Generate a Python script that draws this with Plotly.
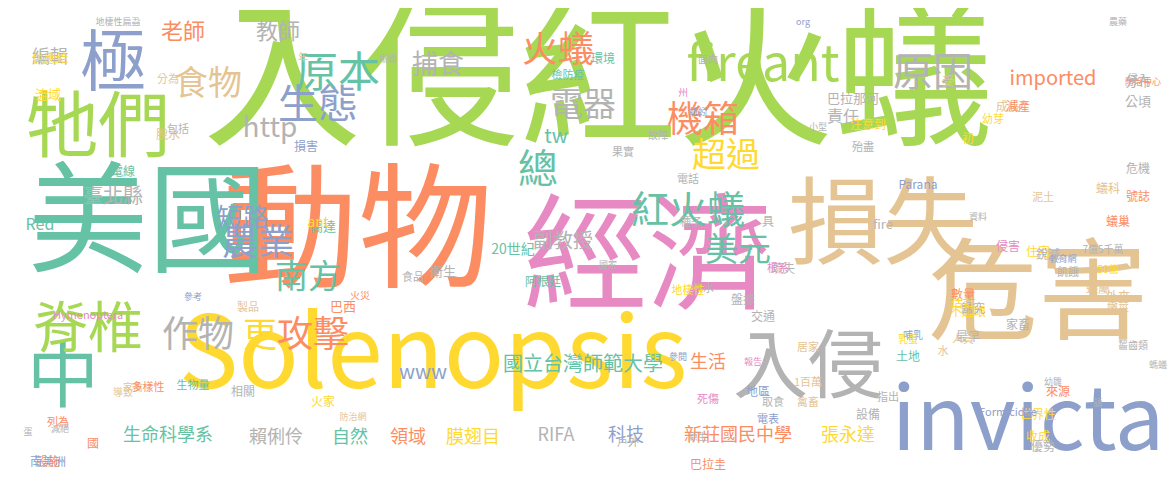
import plotly.graph_objects as go

G, O, T, B, P, Y, N, R = "#a6d854", "#fc8d62", "#66c2a5", "#8da0cb", "#e78ac3", "#ffd92f", "#e5c494", "#b3b3b3"

words = ["入侵紅火蟻", "動物", "經濟", "美國", "損失", "危害", "Solenopsis", "invicta", "入侵", "牠們",
         "極", "中", "脊椎", "fireant", "原本", "原因", "生態", "食物", "火蟻", "紅火蟻",
         "機箱", "超過", "電器", "總", "美元", "農業", "南方", "作物", "更", "攻擊",
         "短路", "http", "捕食", "教師", "老師", "臺北縣", "編輯", "tw", "副教授", "20世紀",
         "Red", "www", "國立台灣師範大學", "生活", "生命科學系", "賴俐伶", "自然", "領域", "膜翅目", "RIFA",
         "科技", "新莊國民中學", "張永達", "imported", "責任", "分布", "公頃", "fire", "巴拉那河", "檢防疫",
         "環境", "果實", "電話", "種子", "巴西", "阿根廷", "衛生", "食品", "火災", "高達",
         "ant", "損害", "電線", "製品", "脫水", "包括", "流域", "供應給", "分為", "年",
         "地棲性扁蝨", "蜥蜴", "org", "面向", "故障", "農藥", "防治中心", "侵入", "危機", "號誌",
         "蟻巢", "蟻科", "成長", "幼芽", "初", "受", "減產", "小型", "注意到", "殆盡",
         "州", "蚯蚓", "Parana", "泥土", "侵害", "資料", "住宅", "教育網", "具", "疏失",
         "銳減", "7億5千萬", "50億", "蟻屬", "飢餓", "外來", "嫩莖", "數量", "不起眼", "最早",
         "歸究", "哺乳", "飲水", "估計", "家畜", "人員", "乳蛋", "土地", "報告", "盤據",
         "參閱", "交通", "地區", "1百萬", "禽畜", "來源", "指出", "設備", "取食", "世界性",
         "收成", "優勢", "Formicidae", "死傷", "電表", "原生", "巴拉圭", "家禽", "生物量", "相關",
         "火家", "Hymenoptera", "多樣性", "導致", "蛋", "參考", "列為", "減絕", "國", "設施",
         "南美洲", "地棲性", "根系", "國家", "居家", "水", "防治網", "戶外", "齧齒類", "螞蟻",
         "請", "幼雛", "三"]
x = [590, 350, 640, 140, 875, 1030, 425, 1020, 800, 90,
     105, 55, 80, 755, 330, 925, 310, 200, 550, 680,
     695, 718, 575, 530, 730, 250, 300, 190, 252, 305,
     235, 262, 430, 270, 175, 105, 42, 548, 555, 505,
     32, 415, 575, 700, 160, 268, 342, 400, 465, 548,
     618, 730, 840, 1045, 835, 1130, 1130, 875, 845, 560,
     595, 615, 680, 683, 335, 535, 435, 405, 352, 315,
     310, 298, 115, 240, 160, 170, 40, 42, 160, 295,
     110, 380, 795, 700, 650, 1110, 1135, 1130, 1130, 1130,
     1110, 1100, 1000, 985, 960, 940, 1010, 810, 860, 855,
     675, 690, 910, 1035, 1000, 970, 1030, 1055, 760, 775,
     1040, 1095, 1100, 1090, 1060, 1110, 1110, 955, 960, 960,
     965, 905, 695, 955, 1010, 955, 900, 900, 745, 735,
     670, 755, 750, 800, 800, 1050, 880, 860, 765, 1030,
     1030, 1035, 1000, 700, 760, 690, 700, 125, 185, 235,
     315, 80, 140, 115, 20, 185, 50, 52, 85, 40,
     40, 680, 770, 600, 800, 935, 345, 620, 1125, 1150,
     1090, 1045, 35]
y = [85, 235, 260, 225, 225, 295, 355, 420, 365, 125,
     60, 375, 325, 60, 68, 68, 100, 78, 45, 205,
     115, 150, 100, 165, 245, 238, 272, 330, 330, 330,
     212, 122, 58, 25, 25, 190, 50, 130, 235, 242,
     218, 366, 358, 355, 428, 430, 430, 430, 430, 428,
     428, 428, 428, 72, 110, 75, 95, 218, 92, 68,
     52, 145, 172, 215, 300, 275, 265, 270, 288, 220,
     215, 140, 165, 300, 128, 122, 88, 52, 72, 50,
     15, 52, 15, 52, 128, 15, 75, 72, 162, 190,
     215, 182, 100, 112, 132, 75, 100, 120, 118, 140,
     85, 105, 178, 190, 240, 210, 245, 252, 215, 262,
     248, 242, 262, 282, 265, 290, 300, 288, 305, 330,
     302, 328, 281, 297, 318, 332, 332, 350, 355, 293,
     350, 310, 385, 375, 395, 385, 390, 408, 395, 408,
     430, 440, 405, 392, 412, 430, 458, 380, 378, 385,
     395, 308, 380, 385, 425, 290, 415, 422, 437, 455,
     455, 283, 261, 258, 340, 344, 410, 435, 338, 358,
     396, 375, 90]
size = [158, 135, 125, 120, 95, 110, 100, 88, 75, 72,
        66, 72, 55, 50, 42, 40, 40, 34, 36, 38,
        36, 34, 33, 40, 33, 36, 33, 36, 34, 36,
        26, 28, 26, 22, 22, 20, 18, 20, 20, 14,
        16, 20, 20, 18, 18, 18, 18, 18, 18, 18,
        18, 18, 18, 20, 16, 13, 13, 13, 13, 11,
        12, 11, 11, 11, 13, 12, 13, 11, 10, 13,
        14, 12, 12, 11, 12, 11, 13, 12, 11, 10,
        9, 9, 9, 10, 10, 9, 9, 11, 12, 12,
        12, 12, 12, 11, 12, 12, 12, 9, 12, 11,
        10, 9, 12, 11, 12, 9, 12, 9, 12, 12,
        12, 10, 10, 12, 11, 12, 11, 12, 12, 12,
        12, 10, 11, 12, 12, 11, 10, 12, 9, 12,
        9, 12, 12, 11, 11, 12, 11, 12, 11, 12,
        12, 12, 11, 11, 11, 9, 12, 10, 11, 12,
        12, 11, 11, 10, 9, 9, 11, 9, 12, 12,
        12, 11, 11, 9, 11, 11, 9, 11, 10, 9,
        9, 9, 11]
color = [G, O, P, T, N, N, Y, B, R, G,
         B, T, G, G, T, R, B, N, O, T,
         O, Y, R, T, T, B, T, R, Y, O,
         B, R, R, R, O, R, R, T, R, T,
         T, B, T, O, T, R, T, O, Y, R,
         B, O, Y, O, R, R, R, R, R, T,
         T, R, R, R, O, T, R, R, O, T,
         Y, B, T, N, N, R, Y, Y, N, N,
         R, R, B, R, R, R, O, R, R, O,
         O, N, N, Y, Y, N, O, R, Y, R,
         P, B, B, N, P, R, Y, B, R, R,
         R, R, Y, N, R, N, N, O, Y, R,
         R, B, R, Y, R, N, Y, T, P, R,
         B, R, B, N, N, O, R, R, R, Y,
         Y, R, B, P, B, R, O, N, T, R,
         Y, P, O, N, R, B, O, R, O, O,
         B, Y, P, R, N, N, N, R, R, R,
         R, R, Y]

fig = go.Figure(go.Scatter(
    x=x, y=y, text=words, mode="text",
    textposition="middle center",
    textfont=dict(size=size, color=color, family="Noto Sans CJK TC"),
    hoverinfo="text"))
fig.update_xaxes(range=[0, 1175], visible=False)
fig.update_yaxes(range=[482, 0], visible=False)
fig.update_layout(width=1175, height=482, margin=dict(l=0, r=0, t=0, b=0),
                  plot_bgcolor="white", paper_bgcolor="white", showlegend=False)
fig.write_html("out.html")
